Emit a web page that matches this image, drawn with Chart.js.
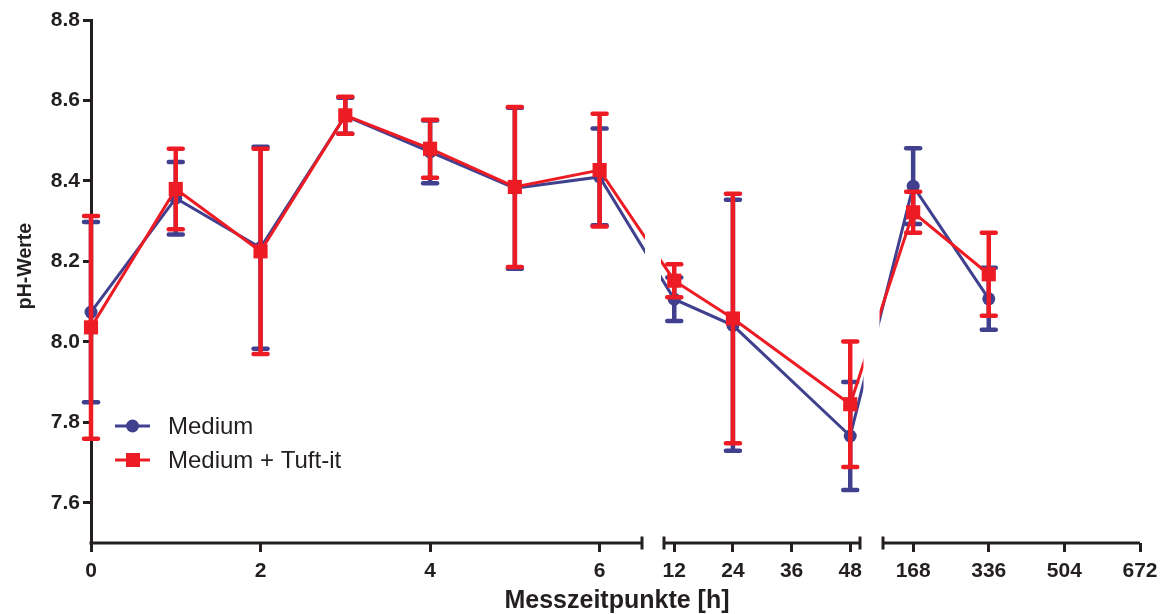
<!DOCTYPE html>
<html>
<head>
<meta charset="utf-8">
<title>pH-Werte</title>
<script src="https://cdn.jsdelivr.net/npm/chart.js@4.4.1/dist/chart.umd.min.js"></script>
<style>
  html, body { margin: 0; padding: 0; background: #fff; }
  #wrap { width: 1175px; height: 614px; }
</style>
</head>
<body>
<div id="wrap"><canvas id="chart" width="1175" height="614"></canvas></div>
<script>
// measurement times in hours
const hours = [0, 1, 2, 3, 4, 5, 6, 12, 24, 48, 168, 336];

const mediumMean = [8.074, 8.357, 8.234, 8.562, 8.472, 8.382, 8.41, 8.106, 8.041, 7.766, 8.387, 8.107];
const mediumSd = [0.224, 0.09, 0.251, 0.045, 0.078, 0.2, 0.12, 0.054, 0.312, 0.134, 0.094, 0.077];

const tuftMean = [8.036, 8.38, 8.225, 8.563, 8.48, 8.385, 8.427, 8.152, 8.058, 7.845, 8.322, 8.168];
const tuftSd = [0.277, 0.1, 0.255, 0.046, 0.072, 0.199, 0.14, 0.041, 0.31, 0.156, 0.051, 0.103];

const seriesLabels = ['Medium', 'Medium + Tuft-it'];
const xTickHours = [0, 2, 4, 6, 12, 24, 36, 48, 168, 336, 504, 672];
const yTicks = [7.6, 7.8, 8.0, 8.2, 8.4, 8.6, 8.8];

// broken x axis: each piece maps an hour range onto part of a linear 0..1049 scale
const xSegments = [
    { min: 0, max: 6.5, start: 0, end: 551 },
    { min: 9.9, max: 50, start: 573, end: 769 },
    { min: 101, max: 672, start: 792, end: 1049 }
];

function toAxis(h) {
    const s = xSegments.find(seg => h >= seg.min && h <= seg.max);
    return s.start + (h - s.min) / (s.max - s.min) * (s.end - s.start);
}

const ink = '#231f20';
const blue = '#40408f';
const red = '#ed1c24';
const fontFamily = '"Liberation Sans", Arial, Helvetica, sans-serif';

const errorBars = {
    id: 'errorBars',
    beforeDatasetDraw(chart, args) {
        const ds = chart.data.datasets[args.index];
        const meta = args.meta;
        const y = chart.scales.y;
        const ctx = chart.ctx;
        ctx.save();
        ctx.strokeStyle = ds.borderColor;
        meta.data.forEach((pt, i) => {
            const top = y.getPixelForValue(ds.means[i] + ds.sds[i]);
            const bottom = y.getPixelForValue(ds.means[i] - ds.sds[i]);
            ctx.lineCap = 'butt';
            ctx.lineWidth = 4.5;
            ctx.beginPath();
            ctx.moveTo(pt.x, top);
            ctx.lineTo(pt.x, bottom);
            ctx.stroke();
            ctx.lineCap = 'round';
            ctx.lineWidth = 4.5;
            [top, bottom].forEach(yy => {
                ctx.beginPath();
                ctx.moveTo(pt.x - 7, yy);
                ctx.lineTo(pt.x + 7, yy);
                ctx.stroke();
            });
        });
        ctx.restore();
    }
};

const brokenAxis = {
    id: 'brokenAxis',
    afterDatasetsDraw(chart) {
        const { ctx, chartArea, scales: { x } } = chart;
        const y0 = chartArea.bottom;
        ctx.save();
        // cut the lines where they pass over a break
        ctx.fillStyle = '#fff';
        for (let i = 0; i < xSegments.length - 1; i++) {
            const a = x.getPixelForValue(xSegments[i].end);
            const b = x.getPixelForValue(xSegments[i + 1].start);
            const mid = (a + b) / 2;
            ctx.fillRect(mid - 8, chartArea.top, 16, y0 - chartArea.top - 5);
        }
        ctx.strokeStyle = ink;
        ctx.lineWidth = 3;
        ctx.lineCap = 'butt';
        xSegments.forEach((s, i) => {
            const x0 = x.getPixelForValue(s.start);
            const x1 = x.getPixelForValue(s.end);
            ctx.beginPath();
            ctx.moveTo(i === 0 ? x0 - 1.5 : x0, y0);
            ctx.lineTo(x1, y0);
            ctx.stroke();
            const caps = [];
            if (i > 0) caps.push(x0);
            if (i < xSegments.length - 1) caps.push(x1);
            caps.forEach(cx => {
                ctx.beginPath();
                ctx.moveTo(cx, y0 - 6.5);
                ctx.lineTo(cx, y0 + 6.5);
                ctx.stroke();
            });
        });
        ctx.restore();
    },
    afterDraw(chart) {
        const { ctx } = chart;
        ctx.save();
        ctx.fillStyle = ink;
        // axis titles
        ctx.font = 'bold 25px ' + fontFamily;
        ctx.textAlign = 'center';
        ctx.textBaseline = 'alphabetic';
        ctx.fillText('Messzeitpunkte [h]', 617, 608);
        ctx.save();
        ctx.translate(31, 266);
        ctx.rotate(-Math.PI / 2);
        ctx.font = 'bold 19.5px ' + fontFamily;
        ctx.fillText('pH-Werte', 0, 0);
        ctx.restore();

        // legend
        ctx.font = '24px ' + fontFamily;
        ctx.textAlign = 'left';
        chart.data.datasets.forEach((ds, i) => {
            const ly = 426 + i * 34;
            ctx.strokeStyle = ds.borderColor;
            ctx.lineWidth = 3;
            ctx.beginPath();
            ctx.moveTo(115, ly);
            ctx.lineTo(150, ly);
            ctx.stroke();
            ctx.fillStyle = ds.borderColor;
            if (ds.pointStyle === 'rect') {
                ctx.fillRect(126, ly - 7, 14, 14);
            } else {
                ctx.beginPath();
                ctx.arc(132.5, ly, 6.5, 0, Math.PI * 2);
                ctx.fill();
            }
            ctx.fillStyle = ink;
            ctx.fillText(ds.label, 168, ly + 8);
        });
        ctx.restore();
    }
};

function makeDataset(label, means, sds, color, style, radius, order) {
    return {
        label: label,
        data: hours.map((h, i) => ({ x: toAxis(h), y: means[i] })),
        means: means,
        sds: sds,
        borderColor: color,
        backgroundColor: color,
        borderWidth: 3,
        pointStyle: style,
        pointRadius: radius,
        pointBorderWidth: 0,
        pointHoverRadius: radius,
        tension: 0,
        clip: false,
        order: order
    };
}

new Chart(document.getElementById('chart'), {
    type: 'line',
    data: {
        datasets: [
            makeDataset(seriesLabels[0], mediumMean, mediumSd, blue, 'circle', 6.5, 1),
            makeDataset(seriesLabels[1], tuftMean, tuftSd, red, 'rect', 10, 0)
        ]
    },
    options: {
        responsive: false,
        animation: false,
        devicePixelRatio: 1,
        layout: { padding: { left: 0, right: 35, top: 20, bottom: 0 } },
        plugins: {
            legend: { display: false },
            tooltip: { enabled: false }
        },
        scales: {
            x: {
                type: 'linear',
                min: 0,
                max: 1049,
                afterFit: s => { s.height = 71; },
                afterBuildTicks: s => { s.ticks = xTickHours.map(h => ({ value: toAxis(h) })); },
                border: { display: false },
                grid: { drawOnChartArea: false, tickLength: 9, tickWidth: 3, tickColor: ink, color: ink },
                ticks: {
                    autoSkip: false,
                    maxRotation: 0,
                    padding: 7,
                    color: ink,
                    font: { family: fontFamily, size: 21, weight: 'bold' },
                    callback: (value, index) => String(xTickHours[index])
                }
            },
            y: {
                min: 7.5,
                max: 8.8,
                afterFit: s => { s.width = 91; },
                afterBuildTicks: s => { s.ticks = yTicks.map(v => ({ value: v })); },
                border: { display: true, color: ink, width: 3 },
                grid: { drawOnChartArea: false, tickLength: 8, tickWidth: 3, tickColor: ink, color: ink },
                ticks: {
                    padding: 3,
                    color: ink,
                    font: { family: fontFamily, size: 21, weight: 'bold' },
                    callback: value => value.toFixed(1)
                }
            }
        }
    },
    plugins: [errorBars, brokenAxis]
});
</script>
</body>
</html>
